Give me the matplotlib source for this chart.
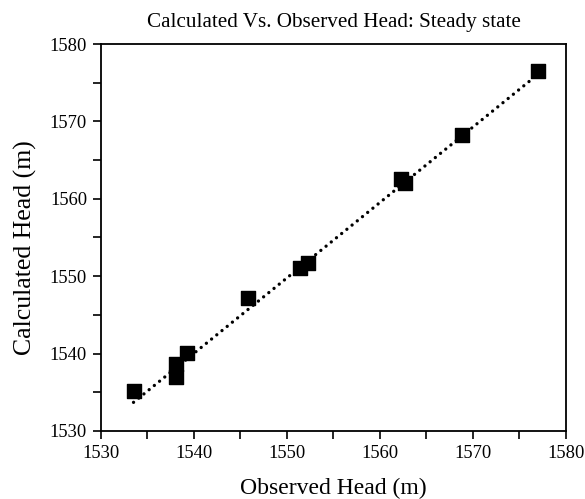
import matplotlib
matplotlib.use("Agg")
import matplotlib.pyplot as plt
from matplotlib.ticker import MultipleLocator

observed = [1533.5, 1538.1, 1538.1, 1539.3, 1545.8, 1551.4, 1552.3, 1562.3, 1562.7, 1568.8, 1577.0]
calculated = [1535.2, 1538.7, 1537.0, 1540.1, 1547.2, 1551.0, 1551.7, 1562.6, 1562.0, 1568.2, 1576.5]
trend_x = [1533.5, 1577.0]
trend_y = [1533.7, 1576.1]

plt.rcParams['font.family'] = ['Liberation Serif', 'DejaVu Serif']

fig = plt.figure(figsize=(5.85, 4.99), dpi=100)
ax = fig.add_axes([0.1726, 0.1363, 0.7949, 0.7755])

ax.plot(trend_x, trend_y, linestyle=(0, (0.01, 2.0)), color='black', linewidth=2.4,
        dash_capstyle='round', zorder=2)
ax.scatter(observed, calculated, marker='s', s=100, color='black', zorder=3)

ax.set_xlim(1530, 1580)
ax.set_ylim(1530, 1580)
ax.xaxis.set_major_locator(MultipleLocator(10))
ax.yaxis.set_major_locator(MultipleLocator(10))
ax.xaxis.set_minor_locator(MultipleLocator(5))
ax.yaxis.set_minor_locator(MultipleLocator(5))
ax.tick_params(which='both', direction='out', width=1.2, labelsize=13.3, color='black')
ax.tick_params(which='major', length=6, pad=4)
ax.tick_params(which='minor', length=6)
for s in ax.spines.values():
    s.set_linewidth(1.3)

fig.text(333.5 / 585, 1 - 22 / 499, 'Calculated Vs. Observed Head: Steady state',
         fontsize=15.2, ha='center', va='center')
ax.set_xlabel('Observed Head (m)', fontsize=17, va='center')
ax.xaxis.set_label_coords(0.5, (431 - 488) / 387)
ax.set_ylabel('Calculated Head (m)', fontsize=18.5, va='center')
ax.yaxis.set_label_coords((25 - 101) / 465, (431 - 248) / 387)

fig.savefig('out.png', dpi=100)
